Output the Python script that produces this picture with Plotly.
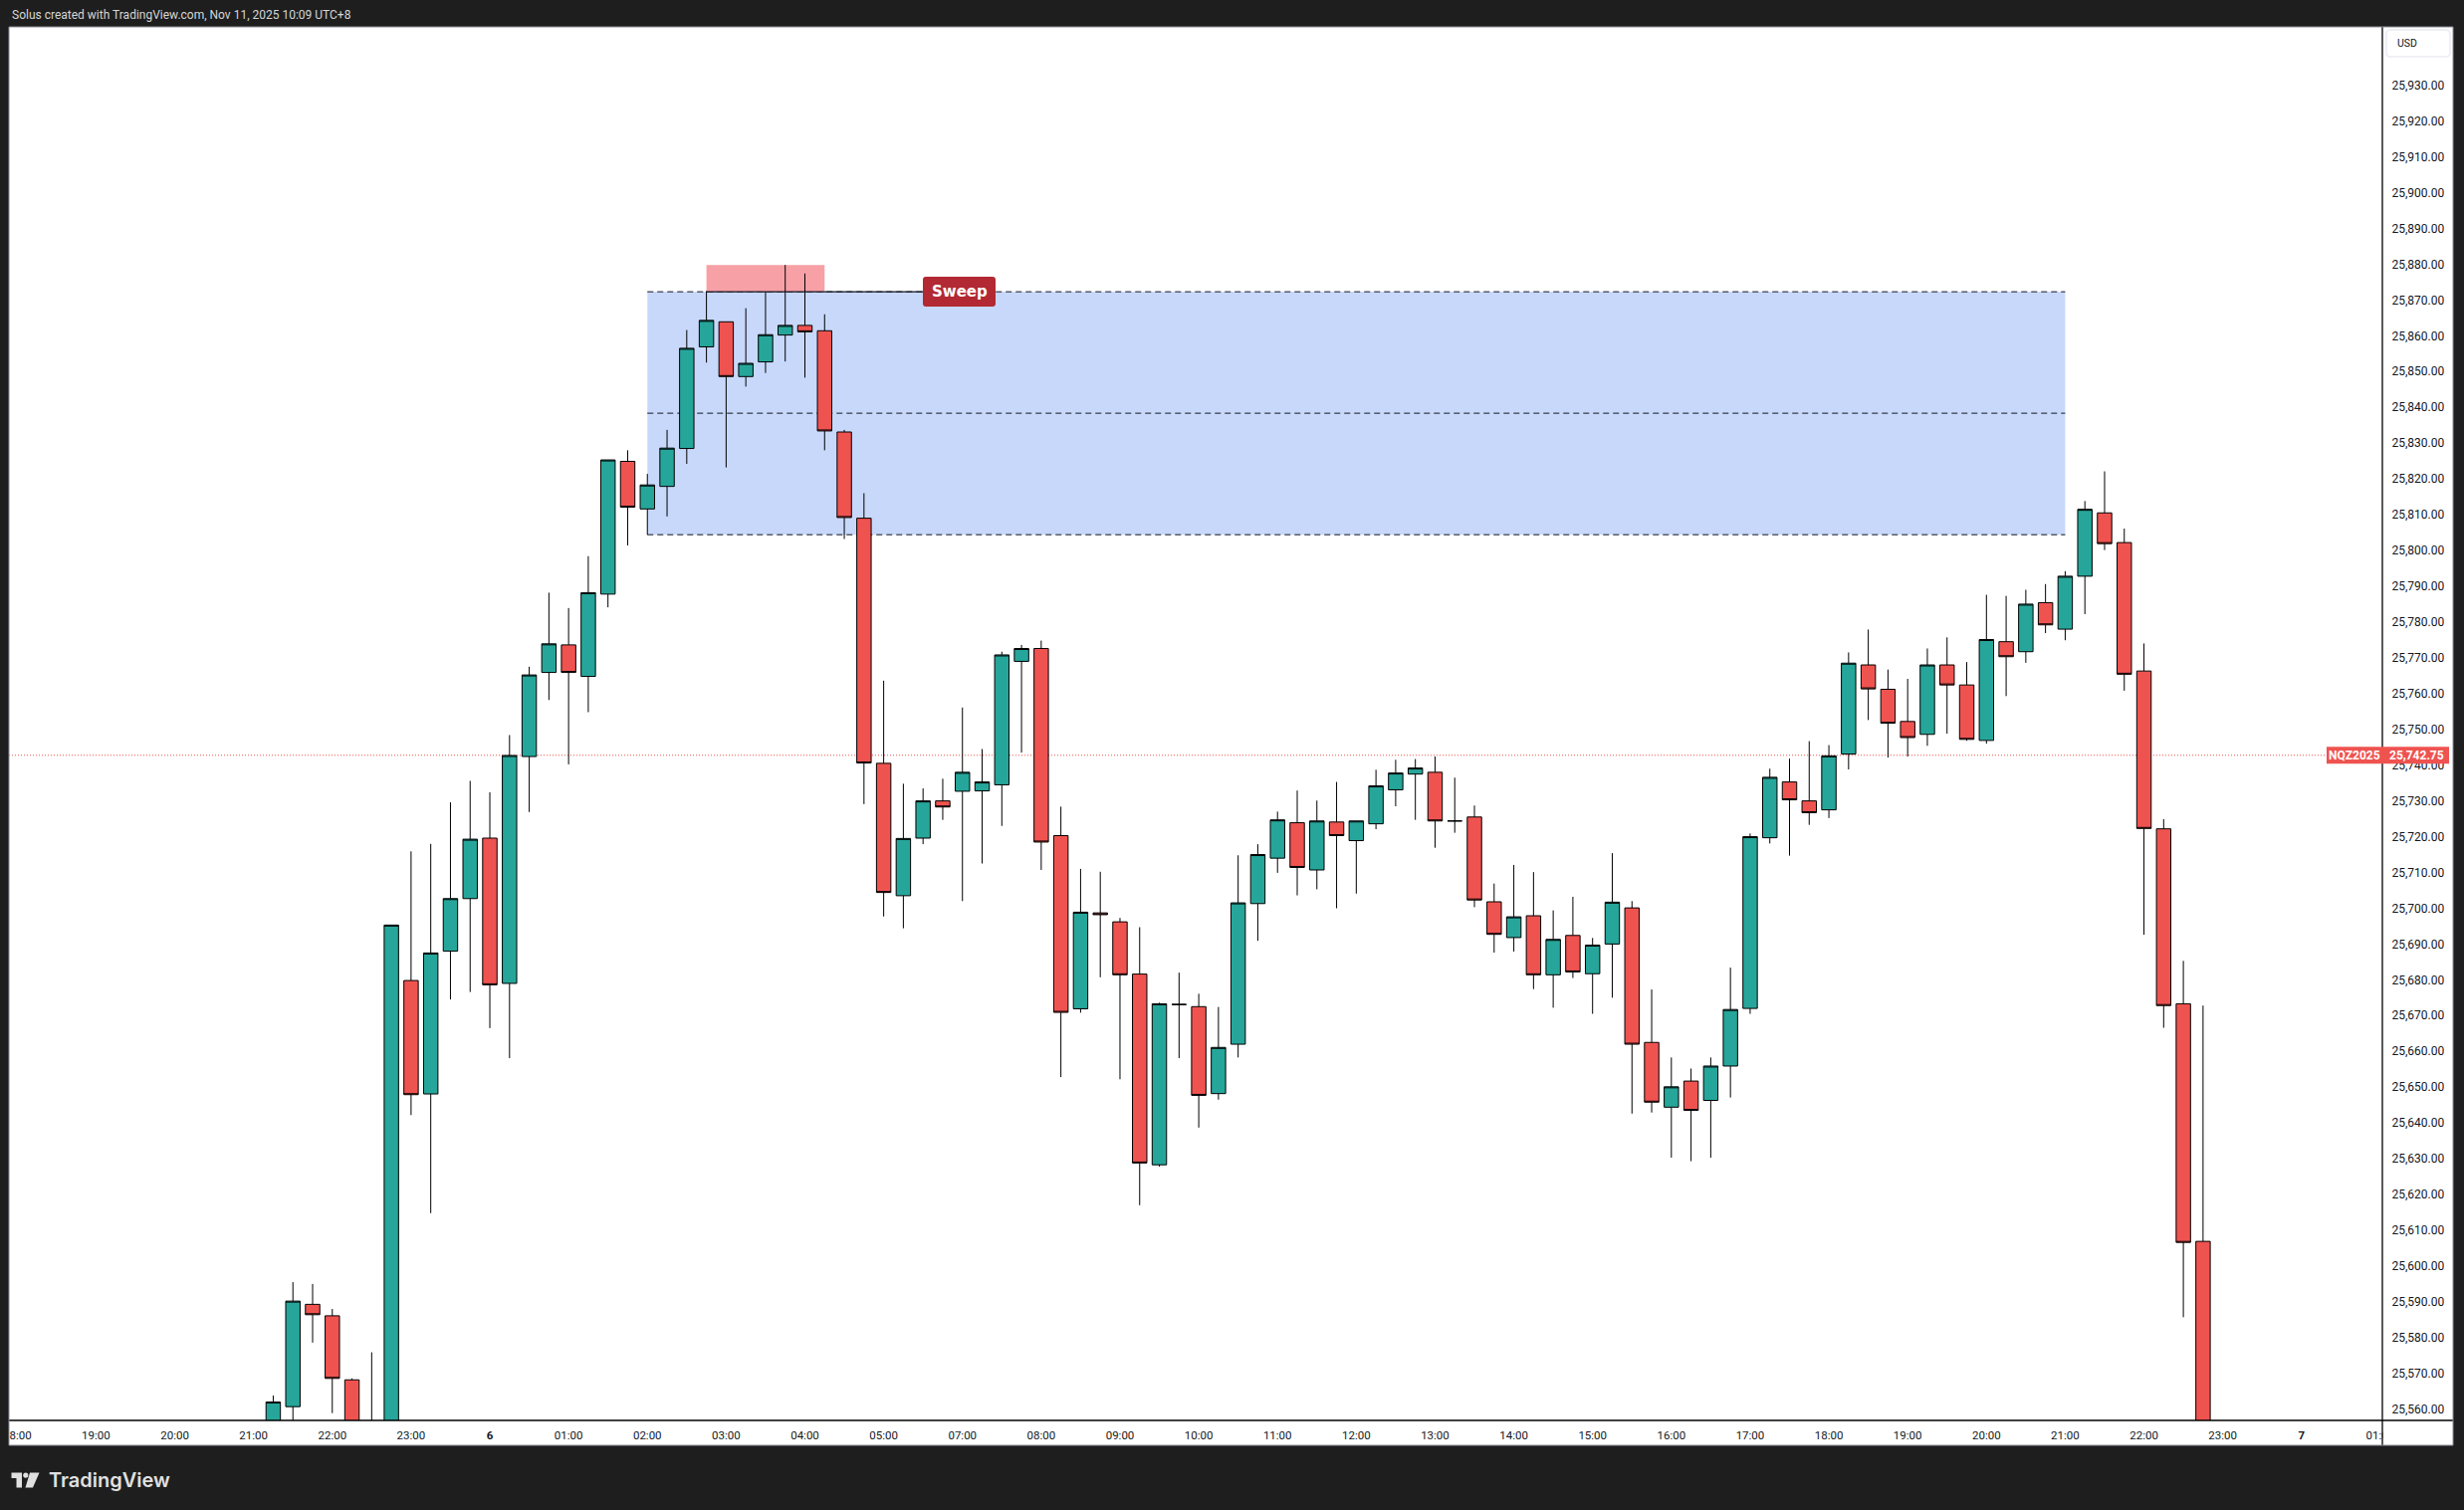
import plotly.graph_objects as go

# NQ 15-minute bars, UTC+8. Bar index counted from Nov 5 18:00 (06:00-07:00 break removed)
bar_idx = list(range(13, 112))
opens = [
    25545.0, 25560.7, 25589.3, 25586.1, 25568.2, 25540.0, 25536.0, 25679.8, 25648.1, 25688.0,
    25702.7, 25719.6, 25679.0, 25742.4, 25765.9, 25773.6, 25764.8, 25787.8, 25824.9, 25811.6,
    25817.9, 25828.5, 25856.9, 25863.9, 25848.6, 25852.7, 25860.2, 25862.9, 25861.4, 25833.1,
    25809.0, 25740.5, 25703.5, 25719.6, 25730.0, 25732.7, 25732.8, 25734.5, 25769.0, 25772.6,
    25720.3, 25671.9, 25698.7, 25696.2, 25681.6, 25628.3, 25673.1, 25672.5, 25648.2, 25662.0,
    25701.3, 25714.0, 25723.9, 25710.7, 25724.1, 25718.9, 25723.6, 25733.1, 25737.5, 25738.0,
    25724.4, 25725.5, 25701.8, 25691.8, 25697.9, 25681.4, 25692.4, 25681.7, 25690.0, 25700.1,
    25662.5, 25644.4, 25651.7, 25646.3, 25655.9, 25672.0, 25719.7, 25735.3, 25730.0, 25727.5,
    25743.1, 25768.0, 25761.2, 25752.2, 25748.6, 25768.0, 25762.4, 25746.9, 25774.5, 25771.7,
    25785.4, 25778.0, 25792.8, 25810.5, 25802.2, 25766.3, 25722.2, 25673.3, 25606.9,
]
highs = [
    25563.8, 25595.5, 25595.0, 25588.0, 25568.6, 25575.9, 25695.3, 25715.9, 25718.0, 25729.6,
    25735.6, 25732.4, 25748.4, 25767.5, 25788.2, 25783.9, 25798.4, 25825.3, 25828.0, 25821.4,
    25833.7, 25861.6, 25872.5, 25863.9, 25867.7, 25872.3, 25879.8, 25877.4, 25866.0, 25833.7,
    25816.0, 25763.6, 25734.8, 25733.5, 25736.2, 25756.1, 25744.5, 25771.7, 25773.6, 25774.8,
    25728.4, 25711.0, 25710.2, 25697.3, 25694.7, 25673.6, 25682.0, 25676.1, 25672.4, 25714.8,
    25717.9, 25727.0, 25732.9, 25730.1, 25735.3, 25724.4, 25738.7, 25741.5, 25741.7, 25742.4,
    25736.5, 25728.7, 25706.9, 25712.1, 25710.1, 25699.4, 25703.2, 25691.7, 25715.4, 25702.0,
    25677.3, 25658.3, 25655.2, 25658.3, 25683.4, 25720.9, 25739.0, 25741.8, 25746.7, 25745.6,
    25771.5, 25777.9, 25766.7, 25764.1, 25772.6, 25775.7, 25768.8, 25787.6, 25787.3, 25789.0,
    25790.6, 25794.2, 25813.8, 25822.1, 25806.1, 25774.0, 25724.9, 25685.3, 25672.8,
]
lows = [
    25538.0, 25552.0, 25578.6, 25558.9, 25535.0, 25528.0, 25530.0, 25642.2, 25614.8, 25674.5,
    25676.6, 25666.5, 25658.1, 25726.9, 25758.2, 25740.2, 25754.8, 25784.1, 25801.4, 25804.4,
    25809.5, 25824.2, 25852.5, 25823.2, 25845.8, 25849.6, 25852.8, 25848.3, 25828.0, 25803.2,
    25729.1, 25697.7, 25694.4, 25717.9, 25724.7, 25702.0, 25712.5, 25723.0, 25743.5, 25710.7,
    25652.8, 25670.8, 25680.7, 25652.2, 25617.0, 25627.8, 25658.1, 25638.7, 25646.5, 25658.3,
    25690.9, 25709.9, 25703.6, 25705.3, 25700.0, 25704.1, 25722.1, 25728.5, 25724.7, 25716.9,
    25721.1, 25700.3, 25687.6, 25687.9, 25677.4, 25672.2, 25680.5, 25670.5, 25675.0, 25642.6,
    25642.9, 25630.3, 25629.3, 25630.3, 25647.1, 25670.5, 25718.1, 25714.7, 25723.3, 25725.2,
    25738.8, 25752.6, 25742.1, 25742.4, 25745.4, 25748.8, 25746.8, 25746.0, 25759.3, 25768.6,
    25776.9, 25774.9, 25782.2, 25800.1, 25760.8, 25692.6, 25666.6, 25585.7, 25530.0,
]
closes = [
    25562.0, 25590.2, 25586.4, 25568.6, 25540.0, 25536.0, 25695.3, 25647.9, 25687.5, 25702.7,
    25719.3, 25678.6, 25742.7, 25765.2, 25773.9, 25765.9, 25788.2, 25825.3, 25812.1, 25818.3,
    25828.6, 25856.5, 25864.3, 25848.6, 25852.3, 25860.3, 25862.9, 25861.1, 25833.4, 25809.2,
    25740.6, 25704.4, 25719.5, 25730.0, 25728.3, 25738.0, 25735.3, 25770.8, 25772.6, 25718.5,
    25670.9, 25698.9, 25698.2, 25681.4, 25628.8, 25673.3, 25673.1, 25647.7, 25661.1, 25701.5,
    25715.0, 25724.7, 25711.4, 25724.4, 25720.3, 25724.4, 25734.2, 25737.8, 25739.2, 25724.4,
    25724.4, 25702.3, 25692.7, 25697.6, 25681.4, 25691.3, 25682.2, 25689.7, 25701.7, 25662.0,
    25645.8, 25650.1, 25643.5, 25655.9, 25671.7, 25720.0, 25736.6, 25730.3, 25726.7, 25742.6,
    25768.5, 25761.3, 25751.7, 25747.7, 25768.0, 25762.4, 25747.2, 25775.1, 25770.3, 25785.0,
    25779.2, 25792.8, 25811.5, 25801.9, 25765.4, 25722.3, 25672.8, 25606.6, 25540.0,
]

time_tickvals = list(range(0, 121, 4))
time_ticktext = [
    "18:00", "19:00", "20:00", "21:00", "22:00", "23:00", "<b>6</b>", "01:00",
    "02:00", "03:00", "04:00", "05:00", "07:00", "08:00", "09:00", "10:00",
    "11:00", "12:00", "13:00", "14:00", "15:00", "16:00", "17:00", "18:00",
    "19:00", "20:00", "21:00", "22:00", "23:00", "<b>7</b>", "01:00",
]
price_ticks = list(range(25560, 25931, 10))

last_price = 25742.75
zone_x = (32, 104)
zone_top, zone_bottom = 25872.3, 25804.4
sweep_x = (35, 41)
sweep_high = 25879.8
sweep_line_end = 46

# page geometry (px) -> paper coords
W, H = 2475, 1517
L, R, T, B = 9, 2393, 27, 1427
AX_R, AX_B = 2464, 1452
DARK = "#1e1e1e"
TXT = "#131722"


def px(x):
    return (x - L) / (R - L)


def py(y):
    return (B - y) / (B - T)


def rrect_path(x0, y0, x1, y1, r):
    P = lambda x, y: f"{px(x):.6f},{py(y):.6f}"
    return (f"M{P(x0 + r, y0)} L{P(x1 - r, y0)} Q{P(x1, y0)} {P(x1, y0 + r)} "
            f"L{P(x1, y1 - r)} Q{P(x1, y1)} {P(x1 - r, y1)} L{P(x0 + r, y1)} "
            f"Q{P(x0, y1)} {P(x0, y1 - r)} L{P(x0, y0 + r)} Q{P(x0, y0)} {P(x0 + r, y0)} Z")


def poly_path(pts):
    return "M" + " L".join(f"{px(x):.6f},{py(y):.6f}" for x, y in pts) + " Z"


fig = go.Figure()
fig.add_trace(go.Candlestick(
    x=bar_idx, open=opens, high=highs, low=lows, close=closes,
    increasing=dict(fillcolor="#26a69a", line=dict(color="#000000", width=1)),
    decreasing=dict(fillcolor="#ef5350", line=dict(color="#000000", width=1)),
    whiskerwidth=0, showlegend=False, hoverinfo="skip",
))

shapes = []
# axis strips (white) under everything
shapes.append(dict(type="rect", xref="paper", yref="paper", layer="below",
                   x0=px(L), x1=px(AX_R), y0=py(AX_B), y1=py(B),
                   fillcolor="white", line_width=0))
shapes.append(dict(type="rect", xref="paper", yref="paper", layer="below",
                   x0=px(R), x1=px(AX_R), y0=py(AX_B), y1=py(T),
                   fillcolor="white", line_width=0))
# blue range zone
shapes.append(dict(type="rect", xref="x", yref="y", layer="below",
                   x0=zone_x[0], x1=zone_x[1], y0=zone_bottom, y1=zone_top,
                   fillcolor="#c8d8fb", line_width=0))
zone_mid = (zone_top + zone_bottom) / 2
for lvl in (zone_top, zone_mid, zone_bottom):
    shapes.append(dict(type="line", xref="x", yref="y", layer="below",
                       x0=zone_x[0], x1=zone_x[1], y0=lvl, y1=lvl,
                       line=dict(color=TXT, width=1, dash="6px,4px")))
# sweep highlight + line
shapes.append(dict(type="rect", xref="x", yref="y", layer="below",
                   x0=sweep_x[0], x1=sweep_x[1], y0=zone_top, y1=sweep_high,
                   fillcolor="#f7a0a6", line_width=0))
shapes.append(dict(type="line", xref="x", yref="y", layer="below",
                   x0=sweep_x[0], x1=sweep_line_end, y0=zone_top, y1=zone_top,
                   line=dict(color=TXT, width=1.2)))
# current price dotted line
shapes.append(dict(type="line", xref="paper", yref="y", layer="below",
                   x0=0, x1=1, y0=last_price, y1=last_price,
                   line=dict(color="#ef5350", width=1, dash="1px,2px")))

# frame pieces above data
shapes.append(dict(type="rect", xref="paper", yref="paper", layer="above",
                   x0=px(0), x1=px(L), y0=py(AX_B), y1=py(B),
                   fillcolor=DARK, line_width=0))
shapes.append(dict(type="rect", xref="paper", yref="paper", layer="above",
                   x0=px(R + 0.5), x1=px(AX_R), y0=py(AX_B), y1=py(B + 0.5),
                   fillcolor="white", line_width=0))
shapes.append(dict(type="line", xref="paper", yref="paper", layer="above",
                   x0=px(L), x1=px(AX_R), y0=py(B), y1=py(B),
                   line=dict(color="#000000", width=1.3)))
shapes.append(dict(type="line", xref="paper", yref="paper", layer="above",
                   x0=px(R), x1=px(R), y0=py(T), y1=py(AX_B),
                   line=dict(color="#000000", width=1.3)))
shapes.append(dict(type="rect", xref="paper", yref="paper", layer="above",
                   x0=px(L), x1=px(AX_R), y0=py(AX_B), y1=py(T),
                   line=dict(color="#8a8d96", width=1)))
# price labels at right
shapes.append(dict(type="rect", xref="paper", yref="y", layer="above",
                   x0=px(2337), x1=px(2393), ysizemode="pixel", yanchor=last_price,
                   y0=-8.5, y1=8.5, fillcolor="#ef5350", line_width=0))
shapes.append(dict(type="rect", xref="paper", yref="y", layer="above",
                   x0=px(2393), x1=px(2460), ysizemode="pixel", yanchor=last_price,
                   y0=-8.5, y1=8.5, fillcolor="#ef5350", line_width=0))
# USD box
shapes.append(dict(type="path", xref="paper", yref="paper", layer="above",
                   path=rrect_path(2397, 30, 2461, 57, 4),
                   fillcolor="white", line=dict(color="#e0e3eb", width=1)))
# Sweep label
shapes.append(dict(type="path", xref="paper", yref="paper", layer="above",
                   path=rrect_path(927, 278, 1000, 308, 3),
                   fillcolor="#b22833", line_width=0))
# TradingView logo mark
logo_fill = "#e0e0e0"
shapes.append(dict(type="path", xref="paper", yref="paper", layer="above",
                   path=poly_path([(11.5, 1479.5), (22, 1479.5), (22, 1494.5),
                                   (16.5, 1494.5), (16.5, 1485), (11.5, 1485)]),
                   fillcolor=logo_fill, line_width=0))
shapes.append(dict(type="circle", xref="paper", yref="paper", layer="above",
                   x0=px(23.2), x1=px(28.4), y0=py(1484.7), y1=py(1479.5),
                   fillcolor=logo_fill, line_width=0))
shapes.append(dict(type="path", xref="paper", yref="paper", layer="above",
                   path=poly_path([(30, 1479.5), (39.5, 1479.5), (33, 1494.5), (25.5, 1494.5)]),
                   fillcolor=logo_fill, line_width=0))

annotations = [
    dict(text="Solus created with TradingView.com, Nov 11, 2025 10:09 UTC+8",
         xref="paper", yref="paper", x=px(10), y=py(14.5), xanchor="left", yanchor="middle",
         showarrow=False, font=dict(family="Roboto", size=12, color="#d6d6d6")),
    dict(text="TradingView", xref="paper", yref="paper", x=px(47), y=py(1487),
         xanchor="left", yanchor="middle", showarrow=False,
         font=dict(family="Inter", size=20, color=logo_fill, weight=600)),
    dict(text="USD", xref="paper", yref="paper", x=px(2406), y=py(44),
         xanchor="left", yanchor="middle", showarrow=False,
         font=dict(family="Roboto", size=10.5, color=TXT)),
    dict(text="Sweep", xref="paper", yref="paper", x=px(963.5), y=py(293),
         xanchor="center", yanchor="middle", showarrow=False,
         font=dict(family="DejaVu Sans", size=15, color="white", weight="bold")),
    dict(text="NQZ2025", xref="paper", yref="y", x=px(2365), y=last_price,
         xanchor="center", yanchor="middle", showarrow=False,
         font=dict(family="Roboto", size=12, color="white", weight="bold")),
    dict(text=f"{last_price:,.2f}", xref="paper", yref="y", x=px(2427), y=last_price,
         xanchor="center", yanchor="middle", showarrow=False,
         font=dict(family="Roboto", size=12, color="white", weight="bold")),
]

# axis ranges from the screen scale: 19.78 px per bar, 3.5946 px per point
x_lo = (L - 17.3) / 19.78
x_hi = (R - 17.3) / 19.78
y_lo = 25560 - (B - 1415.7) / 3.5946
y_hi = 25560 + (1415.7 - T) / 3.5946

fig.update_layout(
    width=W, height=H,
    margin=dict(l=L, r=W - R, t=T, b=H - B, pad=0),
    paper_bgcolor=DARK, plot_bgcolor="white",
    font=dict(family="Roboto", color=TXT),
    boxgap=0.27, boxgroupgap=0,
    hovermode=False, dragmode=False,
    shapes=shapes, annotations=annotations,
    xaxis=dict(
        range=[x_lo, x_hi], tickvals=time_tickvals, ticktext=time_ticktext,
        showgrid=False, zeroline=False, showline=False, automargin=False,
        ticks="outside", ticklen=4, tickcolor="rgba(0,0,0,0)",
        tickfont=dict(size=11.5, color=TXT), rangeslider=dict(visible=False),
        fixedrange=True,
    ),
    yaxis=dict(
        range=[y_lo, y_hi], side="right", tickvals=price_ticks, tickformat=",.2f",
        showgrid=False, zeroline=False, showline=False, automargin=False,
        ticks="outside", ticklen=6, tickcolor="rgba(0,0,0,0)",
        tickfont=dict(size=12, color=TXT), fixedrange=True,
    ),
)

# the page's default body margin would shift the figure by 8px
page_fix = "document.body.style.margin='0';document.body.style.background='%s';" % DARK
fig.write_html("out.html", config={"displayModeBar": False}, post_script=page_fix)
